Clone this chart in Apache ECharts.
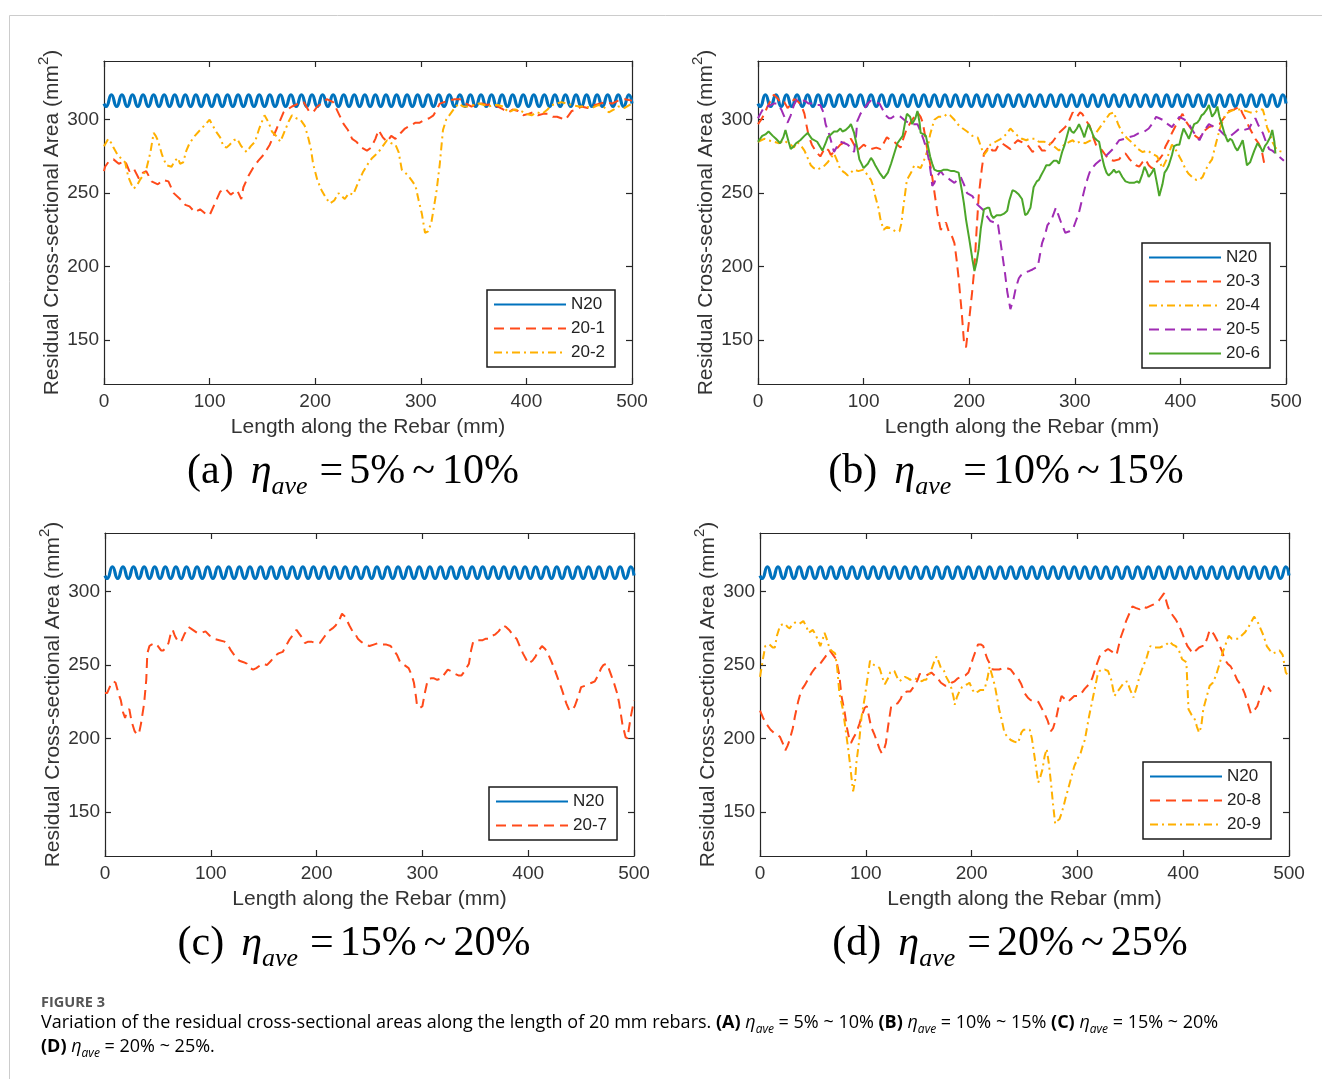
<!DOCTYPE html>
<html>
<head>
<meta charset="utf-8">
<script src="https://cdn.jsdelivr.net/npm/echarts@6/dist/echarts.min.js"></script>
<style>
  html, body { margin: 0; padding: 0; background: #ffffff; }
  #chart { width: 1322px; height: 1079px; }
</style>
</head>
<body>
<div id="chart"></div>
<script>
// ---------------------------------------------------------------------------
// Residual cross-sectional area (mm^2) versus position along the rebar (mm).
// Each series is a list of [position, area] pairs.
// ---------------------------------------------------------------------------

// Intact reference bar N20 (ribbed profile: crest / root alternation)
const n20 = [[0,311],[2,309],[7,317],[12,309],[17,317],[22,309],[27,317],[32,309],[37,317],[42,309],[47,317],[52,309],[57,317],[62,309],[67,317],[72,309],[77,317],[82,309],[87,317],[92,309],[97,317],[102,309],[107,317],[112,309],[117,317],[122,309],[127,317],[132,309],[137,317],[142,309],[147,317],[152,309],[157,317],[162,309],[167,317],[172,309],[177,317],[182,309],[187,317],[192,309],[197,317],[202,309],[207,317],[212,309],[217,317],[222,309],[227,317],[232,309],[237,317],[242,309],[247,317],[252,309],[257,317],[262,309],[267,317],[272,309],[277,317],[282,309],[287,317],[292,309],[297,317],[302,309],[307,317],[312,309],[317,317],[322,309],[327,317],[332,309],[337,317],[342,309],[347,317],[352,309],[357,317],[362,309],[367,317],[372,309],[377,317],[382,309],[387,317],[392,309],[397,317],[402,309],[407,317],[412,309],[417,317],[422,309],[427,317],[432,309],[437,317],[442,309],[447,317],[452,309],[457,317],[462,309],[467,317],[472,309],[477,317],[482,309],[487,317],[492,309],[497,317],[500,311]];

// (a) 5% ~ 10%
const s20_1 = [[0,265],[1,268],[5,272],[9,273],[14,270],[20,272],[24,265],[28,267],[33,260],[37,264],[40,265],[45,258],[51,256],[56,259],[61,258],[66,250],[72,246],[77,242],[81,241],[86,237],[91,239],[96,236],[100,235],[105,243],[110,251],[115,253],[120,249],[126,252],[130,246],[132,254],[137,262],[141,267],[146,272],[151,276],[157,283],[163,293],[170,305],[178,309],[184,311],[189,312],[194,306],[198,305],[202,309],[206,311],[211,314],[217,312],[223,303],[227,297],[231,293],[235,287],[239,285],[244,281],[249,279],[253,281],[257,287],[260,293],[264,288],[268,285],[272,289],[276,287],[281,291],[285,294],[290,296],[295,298],[299,298],[304,300],[308,301],[312,303],[318,311],[322,312],[326,313],[332,314],[337,314],[343,311],[348,309],[353,311],[358,311],[363,310],[367,311],[373,309],[378,307],[383,305],[387,307],[392,306],[397,303],[402,304],[406,305],[411,303],[416,304],[421,304],[425,302],[429,302],[433,301],[437,300],[440,303],[443,306],[448,307],[452,309],[458,308],[465,310],[470,311],[475,312],[481,311],[487,313],[493,314],[500,313]];
const s20_2 = [[0,282],[1,283],[4,287],[7,284],[9,281],[13,276],[17,273],[20,271],[23,261],[26,256],[28,253],[31,255],[34,259],[37,262],[40,266],[44,278],[47,291],[49,289],[51,286],[55,276],[59,269],[64,268],[67,272],[70,274],[72,270],[75,271],[78,279],[81,284],[86,289],[91,293],[95,296],[100,300],[103,296],[107,291],[110,288],[113,282],[116,281],[119,283],[123,286],[126,287],[130,282],[135,278],[139,282],[143,285],[147,294],[152,303],[156,298],[159,292],[163,289],[167,285],[171,292],[175,299],[178,303],[182,301],[186,300],[190,296],[193,289],[196,280],[198,270],[202,259],[206,252],[210,247],[214,243],[218,245],[222,250],[225,248],[228,246],[232,250],[236,249],[240,256],[245,264],[250,270],[254,274],[257,276],[261,279],[264,282],[268,286],[272,284],[276,283],[279,278],[282,266],[285,264],[288,262],[291,259],[295,255],[298,245],[301,236],[304,223],[307,224],[310,230],[313,243],[315,252],[318,270],[321,293],[324,300],[328,304],[332,308],[336,311],[340,309],[345,309],[350,310],[355,311],[360,310],[364,309],[369,310],[373,310],[378,309],[383,305],[389,307],[395,306],[400,304],[405,303],[410,305],[415,304],[420,307],[424,310],[429,311],[433,312],[438,311],[443,310],[450,309],[456,309],[462,308],[468,310],[473,309],[478,305],[483,307],[487,309],[493,308],[500,311]];

// (b) 10% ~ 15%
const s20_3 = [[0,297],[3,300],[6,304],[9,309],[12,313],[15,317],[18,315],[22,311],[25,312],[28,308],[31,310],[34,314],[37,313],[41,310],[44,304],[46,296],[48,289],[51,283],[55,278],[59,275],[62,279],[64,281],[67,279],[69,276],[73,279],[78,283],[83,285],[88,287],[91,283],[94,279],[97,281],[100,283],[104,281],[107,280],[112,281],[116,280],[119,284],[122,288],[126,286],[129,285],[132,283],[135,281],[138,288],[141,294],[146,300],[151,305],[154,302],[156,298],[158,290],[160,281],[163,270],[165,261],[168,246],[170,236],[173,225],[176,228],[178,230],[181,223],[184,220],[186,216],[188,205],[190,192],[193,168],[195,149],[197,145],[200,164],[203,184],[205,200],[207,225],[209,248],[212,267],[214,277],[219,282],[222,279],[225,279],[228,283],[231,284],[235,282],[239,280],[243,284],[246,286],[249,285],[252,284],[256,282],[260,278],[263,280],[266,282],[269,279],[272,279],[276,283],[279,285],[282,288],[285,291],[288,293],[291,295],[295,300],[298,305],[302,302],[305,305],[307,304],[311,299],[314,296],[317,289],[320,283],[323,281],[326,279],[329,276],[332,273],[337,272],[342,273],[345,276],[348,277],[352,273],[355,271],[358,269],[361,268],[364,271],[367,273],[370,269],[373,267],[377,271],[380,273],[383,276],[386,282],[389,286],[392,291],[397,298],[402,304],[406,298],[411,293],[414,289],[418,287],[422,292],[427,295],[432,296],[437,297],[441,301],[446,306],[451,307],[456,309],[459,304],[462,300],[465,295],[468,291],[471,287],[474,284],[477,279],[480,268]];
const s20_4 = [[0,285],[3,286],[6,287],[10,286],[15,285],[20,284],[25,286],[28,284],[31,283],[34,281],[37,285],[41,282],[44,279],[47,274],[50,269],[53,267],[56,266],[59,267],[62,268],[66,271],[69,274],[72,277],[75,272],[78,266],[82,264],[85,262],[88,264],[91,266],[95,265],[100,266],[104,262],[107,259],[109,255],[111,248],[114,240],[116,232],[119,225],[122,227],[126,226],[130,224],[134,224],[136,230],[137,237],[139,248],[141,259],[145,264],[148,269],[151,268],[154,267],[157,272],[160,278],[163,290],[167,300],[171,302],[176,302],[179,304],[182,303],[186,300],[189,297],[194,294],[198,292],[203,289],[208,288],[211,282],[214,276],[217,279],[220,283],[225,285],[230,287],[235,290],[239,294],[243,291],[246,289],[250,287],[254,286],[257,287],[262,287],[266,285],[271,285],[276,284],[280,282],[285,279],[290,283],[295,285],[298,286],[301,284],[305,285],[310,284],[315,286],[320,291],[325,296],[329,300],[333,304],[337,305],[341,297],[345,291],[350,287],[355,284],[360,280],[364,278],[369,279],[373,277],[378,275],[383,267],[387,273],[392,283],[396,279],[399,275],[402,271],[405,266],[408,263],[411,261],[415,259],[418,259],[421,261],[424,266],[427,270],[430,273],[433,282],[437,293],[440,299],[443,304],[448,306],[452,307],[457,307],[462,306],[466,305],[471,305],[475,307],[478,307],[480,302],[482,295],[485,290],[487,285],[490,281],[492,279],[497,278]];
const s20_5 = [[0,301],[3,305],[6,309],[9,309],[12,310],[15,311],[18,311],[22,307],[25,302],[28,298],[31,303],[34,310],[37,314],[41,313],[44,313],[48,311],[51,311],[55,310],[59,310],[62,305],[64,297],[67,291],[69,286],[72,278],[75,282],[78,285],[82,284],[85,283],[88,281],[91,278],[93,290],[94,299],[97,304],[100,307],[104,311],[107,313],[111,312],[115,311],[118,307],[121,303],[124,301],[126,301],[130,303],[135,302],[140,299],[145,297],[148,297],[151,297],[154,292],[157,286],[160,279],[162,272],[164,262],[165,255],[167,257],[168,259],[171,263],[173,265],[176,262],[179,261],[182,259],[186,257],[189,259],[192,261],[195,256],[198,250],[203,248],[208,242],[211,240],[214,238],[217,234],[220,231],[224,230],[227,230],[229,220],[231,210],[234,195],[236,183],[239,171],[242,178],[244,185],[247,192],[249,194],[253,196],[257,197],[260,198],[265,200],[267,208],[269,216],[272,222],[274,228],[277,231],[279,234],[282,240],[284,236],[287,230],[291,223],[295,224],[298,225],[301,231],[304,237],[307,246],[310,255],[313,262],[315,266],[320,270],[325,273],[329,275],[336,280],[342,286],[347,287],[351,288],[356,289],[361,291],[366,292],[370,294],[374,298],[377,302],[380,301],[383,300],[388,297],[392,295],[396,299],[399,302],[404,300],[408,297],[413,291],[418,286],[422,292],[427,297],[432,295],[437,293],[441,290],[446,288],[451,291],[456,294],[460,293],[465,294],[468,298],[471,301],[474,296],[478,291],[481,285],[484,280],[487,279],[490,277],[495,274],[498,272]];
const s20_6 = [[0,285],[4,289],[7,290],[10,292],[14,289],[17,287],[21,284],[24,288],[26,293],[29,285],[31,280],[34,282],[36,284],[40,286],[44,289],[47,291],[51,287],[56,285],[61,279],[64,284],[66,288],[69,290],[72,292],[75,292],[78,294],[80,292],[83,293],[86,295],[88,297],[91,291],[94,281],[96,273],[100,267],[104,270],[107,274],[109,272],[111,269],[115,264],[119,260],[123,264],[126,270],[129,277],[132,284],[135,287],[137,289],[139,297],[141,304],[144,302],[146,297],[149,301],[151,306],[153,298],[154,291],[157,290],[159,289],[161,282],[163,275],[165,270],[167,266],[170,265],[173,265],[176,266],[179,266],[183,265],[186,265],[190,264],[193,252],[195,243],[197,232],[200,219],[203,205],[205,197],[207,203],[209,212],[211,226],[214,239],[217,240],[219,240],[221,235],[223,233],[226,235],[230,235],[233,236],[236,238],[238,245],[241,252],[244,251],[247,249],[250,246],[253,235],[255,236],[258,240],[261,254],[264,258],[266,259],[268,262],[271,266],[273,269],[276,269],[280,272],[283,272],[285,270],[288,278],[290,282],[293,290],[295,295],[297,292],[299,291],[302,294],[304,297],[307,292],[309,288],[311,293],[313,297],[316,292],[318,288],[321,286],[323,285],[326,274],[328,268],[330,264],[332,262],[335,264],[337,266],[339,264],[342,265],[345,261],[348,258],[352,257],[356,257],[359,258],[361,257],[364,263],[366,268],[368,265],[370,261],[373,264],[375,267],[378,256],[380,248],[383,256],[385,264],[387,266],[389,269],[392,276],[394,282],[397,283],[399,283],[401,289],[403,294],[406,290],[408,287],[411,293],[413,297],[416,298],[418,300],[420,303],[422,304],[425,307],[427,310],[428,309],[430,302],[433,305],[435,309],[437,302],[440,295],[442,290],[445,285],[447,287],[449,286],[452,281],[454,279],[457,283],[459,286],[461,278],[463,269],[466,271],[468,275],[470,279],[473,284],[476,281],[478,278],[480,282],[482,284],[485,288],[487,293],[489,285],[490,277]];

// (c) 15% ~ 20%
const s20_7 = [[0,231],[2,231],[5,236],[8,239],[10,238],[13,230],[15,226],[17,218],[19,214],[21,219],[23,220],[25,212],[28,205],[30,203],[32,203],[34,210],[37,224],[39,240],[40,258],[42,263],[44,264],[47,265],[50,263],[53,260],[55,260],[58,262],[60,265],[62,271],[64,274],[66,270],[69,266],[72,266],[75,271],[79,276],[83,274],[87,272],[91,272],[95,273],[99,270],[103,268],[108,267],[113,266],[116,264],[119,260],[123,256],[127,253],[131,252],[134,251],[137,248],[140,247],[143,248],[147,250],[150,251],[153,250],[157,253],[160,256],[164,258],[168,259],[171,263],[174,267],[178,271],[181,274],[184,271],[186,269],[189,265],[192,266],[195,266],[199,265],[203,265],[207,269],[211,273],[215,275],[218,277],[221,280],[224,285],[227,283],[231,277],[234,273],[236,272],[239,268],[242,266],[246,264],[250,263],[254,264],[258,265],[262,264],[266,264],[270,263],[273,260],[276,257],[279,252],[283,250],[287,248],[290,243],[292,238],[294,228],[295,222],[298,221],[300,222],[302,230],[305,240],[308,241],[311,241],[314,240],[318,241],[321,244],[324,247],[327,246],[331,244],[334,243],[337,243],[340,246],[344,251],[346,260],[348,266],[352,267],[357,267],[360,268],[363,268],[366,270],[369,271],[372,273],[376,277],[379,276],[382,274],[386,270],[389,268],[392,263],[395,258],[398,254],[400,251],[404,253],[407,256],[410,260],[413,263],[416,261],[418,259],[421,254],[424,249],[428,241],[432,233],[436,224],[439,219],[442,220],[444,222],[447,228],[450,235],[454,236],[457,237],[460,238],[463,239],[466,243],[469,248],[471,250],[474,251],[476,248],[478,244],[481,238],[484,231],[486,224],[489,210],[492,201],[494,200],[495,206],[497,215],[500,226]];

// (d) 20% ~ 25%
const s20_8 = [[0,219],[1,220],[3,214],[6,210],[10,206],[13,204],[16,203],[19,201],[22,196],[24,192],[26,195],[28,199],[31,207],[33,215],[36,225],[39,233],[42,236],[46,241],[49,245],[52,248],[55,249],[58,252],[62,256],[66,260],[69,257],[72,254],[75,243],[77,229],[80,218],[82,208],[84,201],[86,197],[88,200],[91,204],[94,210],[96,215],[99,221],[101,222],[103,215],[105,208],[108,203],[110,199],[113,193],[115,190],[117,192],[119,197],[121,208],[124,222],[127,223],[130,224],[133,227],[135,231],[139,232],[142,232],[144,234],[146,236],[149,240],[151,244],[154,244],[157,243],[160,244],[162,245],[165,243],[167,242],[169,240],[171,238],[175,236],[178,236],[181,238],[184,239],[187,241],[190,242],[194,243],[197,245],[199,249],[201,254],[204,260],[206,264],[209,264],[211,263],[213,258],[215,254],[218,250],[220,247],[223,247],[226,247],[230,248],[233,248],[237,247],[240,244],[244,241],[247,237],[250,231],[253,228],[256,226],[260,226],[263,225],[266,221],[269,217],[272,212],[275,205],[277,207],[280,214],[282,221],[285,229],[288,227],[291,225],[294,227],[297,229],[300,229],[304,231],[307,234],[311,237],[314,241],[318,250],[321,256],[325,259],[329,261],[333,259],[337,257],[339,263],[341,269],[344,275],[346,280],[349,285],[352,290],[355,289],[359,288],[362,290],[365,289],[368,290],[371,291],[374,292],[377,294],[380,297],[382,299],[385,291],[387,287],[390,284],[393,281],[396,277],[399,272],[401,268],[404,263],[407,260],[409,258],[412,260],[415,262],[418,263],[420,263],[423,269],[425,274],[427,273],[429,271],[432,267],[434,264],[437,259],[439,254],[442,251],[445,249],[448,245],[451,240],[455,236],[458,231],[461,224],[464,217],[467,219],[470,222],[473,229],[477,237],[480,235],[483,232]];
const s20_9 = [[0,242],[1,243],[3,255],[5,263],[7,264],[9,264],[12,262],[14,262],[16,270],[19,277],[22,278],[24,278],[26,276],[28,275],[31,278],[33,279],[37,278],[41,280],[44,276],[46,272],[48,273],[50,274],[53,270],[57,263],[59,267],[61,272],[63,268],[66,261],[69,259],[71,258],[73,248],[75,231],[78,221],[80,211],[83,195],[85,183],[87,170],[88,164],[90,172],[91,183],[94,200],[96,215],[99,228],[101,238],[103,248],[104,253],[106,251],[108,250],[111,249],[113,248],[116,241],[118,237],[121,241],[123,245],[125,246],[127,246],[130,241],[132,239],[135,241],[137,242],[140,241],[142,240],[144,241],[146,241],[150,240],[153,239],[155,240],[157,240],[160,244],[162,247],[165,253],[167,256],[169,252],[171,248],[174,246],[176,242],[179,238],[181,234],[183,228],[184,223],[186,228],[189,233],[191,235],[193,236],[196,237],[198,238],[201,233],[203,231],[206,232],[208,233],[210,233],[212,233],[215,241],[217,249],[219,244],[222,236],[224,228],[226,220],[229,211],[231,204],[234,201],[237,199],[240,198],[244,197],[247,204],[249,206],[252,206],[255,206],[257,200],[259,190],[261,180],[263,170],[265,174],[267,179],[269,188],[271,193],[273,183],[275,170],[277,155],[279,142],[281,144],[283,145],[285,149],[287,154],[289,160],[291,165],[294,173],[297,181],[300,186],[303,190],[305,195],[307,199],[309,207],[311,215],[313,222],[315,229],[317,236],[319,243],[321,246],[323,247],[326,247],[329,246],[332,240],[335,229],[338,232],[341,235],[344,238],[347,239],[350,233],[353,228],[356,235],[359,243],[362,249],[365,254],[367,259],[369,263],[372,262],[375,262],[378,262],[381,263],[384,264],[387,266],[390,264],[393,263],[396,260],[399,254],[401,253],[403,252],[405,220],[408,216],[411,213],[413,208],[415,204],[417,208],[419,220],[422,228],[425,236],[428,238],[431,243],[434,250],[437,258],[440,264],[443,270],[446,268],[449,268],[452,268],[455,270],[458,272],[461,275],[464,279],[467,283],[470,280],[473,275],[476,270],[479,263],[482,260],[485,258],[488,259],[491,260],[494,257],[497,245],[500,242]];

// Axis tick values
const yTicks = [150, 200, 250, 300];
const xRange = [0, 500];
const yRange = [120, 340];

// Panel corrosion ranges (eta_ave)
const panelTags = ['(a)', '(b)', '(c)', '(d)'];
const rangeLow = ['5%', '10%', '15%', '20%'];
const rangeHigh = ['10%', '15%', '20%', '25%'];

// ---------------------------------------------------------------------------
// Styling
// ---------------------------------------------------------------------------
const lineLook = {
  'N20':  { color: '#0072BD', type: 'solid',      width: 3.2, smooth: 0.55 },
  '20-1': { color: '#FF4A1A', type: [10, 6],      width: 2,   smooth: false },
  '20-2': { color: '#FFB000', type: [8, 4, 2, 4], width: 2,   smooth: false },
  '20-3': { color: '#FF4A1A', type: [10, 6],      width: 2,   smooth: false },
  '20-4': { color: '#FFB000', type: [8, 4, 2, 4], width: 2,   smooth: false },
  '20-5': { color: '#A02CB4', type: [10, 6],      width: 2,   smooth: false },
  '20-6': { color: '#4CA62A', type: 'solid',      width: 2,   smooth: false },
  '20-7': { color: '#FF4A1A', type: [10, 6],      width: 2,   smooth: false },
  '20-8': { color: '#FF4A1A', type: [10, 6],      width: 2,   smooth: false },
  '20-9': { color: '#FFB000', type: [8, 4, 2, 4], width: 2,   smooth: false }
};

const panels = [
  { grid: { left: 104, top: 61, width: 528, height: 323 },
    series: [['N20', n20], ['20-1', s20_1], ['20-2', s20_2]],
    legend: { left: 487, top: 290 }, caption: { x: 353, y: 474 } },
  { grid: { left: 758, top: 61, width: 528, height: 323 },
    series: [['N20', n20], ['20-3', s20_3], ['20-4', s20_4], ['20-5', s20_5], ['20-6', s20_6]],
    legend: { left: 1142, top: 243 }, caption: { x: 1006, y: 474 } },
  { grid: { left: 105, top: 533, width: 529, height: 323 },
    series: [['N20', n20], ['20-7', s20_7]],
    legend: { left: 489, top: 787 }, caption: { x: 354, y: 946 } },
  { grid: { left: 760, top: 533, width: 529, height: 323 },
    series: [['N20', n20], ['20-8', s20_8], ['20-9', s20_9]],
    legend: { left: 1143, top: 762 }, caption: { x: 1010, y: 946 } }
];

const AXIS_COLOR = '#262626';
const SANS = 'Liberation Sans, Arial, sans-serif';
const SERIF = 'Liberation Serif, Times New Roman, serif';

const grids = [], xAxes = [], yAxes = [], seriesList = [], legends = [], graphics = [];

panels.forEach((p, i) => {
  grids.push(Object.assign({ containLabel: false }, p.grid));

  const commonLine = { show: true, onZero: false, lineStyle: { color: AXIS_COLOR, width: 1.2 } };
  const tick = { show: true, inside: true, length: 6, lineStyle: { color: AXIS_COLOR, width: 1.2 } };

  xAxes.push({
    gridIndex: i, type: 'value', position: 'bottom', min: xRange[0], max: xRange[1], interval: 100,
    axisLine: commonLine, axisTick: tick, splitLine: { show: false },
    axisLabel: { fontFamily: SANS, fontSize: 19, color: '#333', margin: 8 },
    name: 'Length along the Rebar (mm)', nameLocation: 'middle', nameGap: 33,
    nameTextStyle: { fontFamily: SANS, fontSize: 21, color: '#333' }
  });
  xAxes.push({
    gridIndex: i, type: 'value', position: 'top', min: xRange[0], max: xRange[1], interval: 100,
    axisLine: commonLine, axisTick: tick, splitLine: { show: false }, axisLabel: { show: false }
  });
  yAxes.push({
    gridIndex: i, type: 'value', position: 'left', min: yRange[0], max: yRange[1],
    axisLine: commonLine, axisTick: Object.assign({ customValues: yTicks }, tick), splitLine: { show: false },
    axisLabel: { customValues: yTicks, fontFamily: SANS, fontSize: 19, color: '#333', margin: 5 },
    name: '{n|Residual Cross-sectional Area (mm}{sup|2}{n|)}', nameLocation: 'middle', nameGap: 41,
    nameTextStyle: {
      fontFamily: SANS, fontSize: 21, color: '#333',
      rich: {
        n: { fontFamily: SANS, fontSize: 21, color: '#333', lineHeight: 27, verticalAlign: 'bottom' },
        sup: { fontFamily: SANS, fontSize: 15, color: '#333', lineHeight: 16, verticalAlign: 'top' }
      }
    }
  });
  yAxes.push({
    gridIndex: i, type: 'value', position: 'right', min: yRange[0], max: yRange[1],
    axisLine: commonLine, axisTick: Object.assign({ customValues: yTicks }, tick), splitLine: { show: false },
    axisLabel: { show: false }
  });

  p.series.forEach(([name, data]) => {
    const look = lineLook[name];
    seriesList.push({
      type: 'line', name: name, data: data,
      xAxisIndex: 2 * i, yAxisIndex: 2 * i,
      symbol: 'none', showSymbol: false, smooth: look.smooth,
      lineStyle: { color: look.color, type: look.type, width: look.width },
      itemStyle: { color: look.color },
      emphasis: { disabled: true }, silent: true, animation: false
    });
  });

  legends.push({
    orient: 'vertical', left: p.legend.left, top: p.legend.top,
    data: p.series.map(s => s[0]),
    itemWidth: 72, itemHeight: 14, itemGap: 7,
    padding: [6, 10, 6, 6],
    backgroundColor: '#ffffff', borderColor: '#1a1a1a', borderWidth: 1.5, borderRadius: 0,
    selectedMode: false,
    itemStyle: { opacity: 0 },
    textStyle: { fontFamily: SANS, fontSize: 17, color: '#222' }
  });

  graphics.push({
    type: 'text', x: p.caption.x, y: p.caption.y, silent: true,
    style: {
      text: '{n|' + panelTags[i] + '}{e|η}{s|ave}{q|=}{n|' + rangeLow[i] + '}{t|~}{n|' + rangeHigh[i] + '}',
      textAlign: 'center', textVerticalAlign: 'middle',
      rich: {
        n: { fontFamily: SERIF, fontSize: 42, color: '#111', lineHeight: 46, verticalAlign: 'top' },
        e: { fontFamily: SERIF, fontSize: 42, fontStyle: 'italic', color: '#111', lineHeight: 46, verticalAlign: 'top', padding: [0, 0, 0, 17] },
        s: { fontFamily: SERIF, fontSize: 26, fontStyle: 'italic', color: '#111', lineHeight: 30, verticalAlign: 'top', padding: [23, 0, 0, 0] },
        q: { fontFamily: SERIF, fontSize: 42, color: '#111', lineHeight: 46, verticalAlign: 'top', padding: [0, 6, 0, 12] },
        t: { fontFamily: SERIF, fontSize: 42, color: '#111', lineHeight: 46, verticalAlign: 'top', padding: [0, 7, 0, 7] }
      }
    }
  });
});

// Figure frame
graphics.push({ type: 'line', silent: true, shape: { x1: 9.5, y1: 15.5, x2: 1322, y2: 15.5 }, style: { stroke: '#cccccc', lineWidth: 1 } });
graphics.push({ type: 'line', silent: true, shape: { x1: 9.5, y1: 15.5, x2: 9.5, y2: 1079 }, style: { stroke: '#cccccc', lineWidth: 1 } });

// Figure caption
const CAP = 'Open Sans, Noto Sans, sans-serif';
graphics.push({
  type: 'text', x: 41, y: 1003, silent: true,
  style: { text: 'FIGURE 3', fontFamily: CAP, fontSize: 14.5, fontWeight: 'bold', fill: '#555', textVerticalAlign: 'middle' }
});
const eta = (tag, range) => '{b|' + tag + '}{t| }{i|η}{s|ave}{t| = ' + range + ' }';
graphics.push({
  type: 'text', x: 41, y: 1014, silent: true,
  style: {
    text: '{t|Variation of the residual cross-sectional areas along the length of 20 mm rebars. }' +
          eta('(A)', '5% ~ 10%') + eta('(B)', '10% ~ 15%') + eta('(C)', '15% ~ 20%') + '\n' +
          '{b|(D)}{t| }{i|η}{s|ave}{t| = 20% ~ 25%.}',
    rich: {
      t: { fontFamily: CAP, fontSize: 18, color: '#5a5a5a', lineHeight: 24, verticalAlign: 'top' },
      b: { fontFamily: CAP, fontSize: 18, fontWeight: 'bold', color: '#444', lineHeight: 24, verticalAlign: 'top' },
      i: { fontFamily: CAP, fontSize: 18, fontStyle: 'italic', color: '#5a5a5a', lineHeight: 24, verticalAlign: 'top' },
      s: { fontFamily: CAP, fontSize: 12, fontStyle: 'italic', color: '#5a5a5a', lineHeight: 24, verticalAlign: 'top', padding: [10, 0, 0, 0] }
    }
  }
});

const chart = echarts.init(document.getElementById('chart'), null, { renderer: 'canvas' });
chart.setOption({
  animation: false,
  backgroundColor: '#ffffff',
  grid: grids,
  xAxis: xAxes,
  yAxis: yAxes,
  legend: legends,
  series: seriesList,
  graphic: graphics
});
</script>
</body>
</html>
